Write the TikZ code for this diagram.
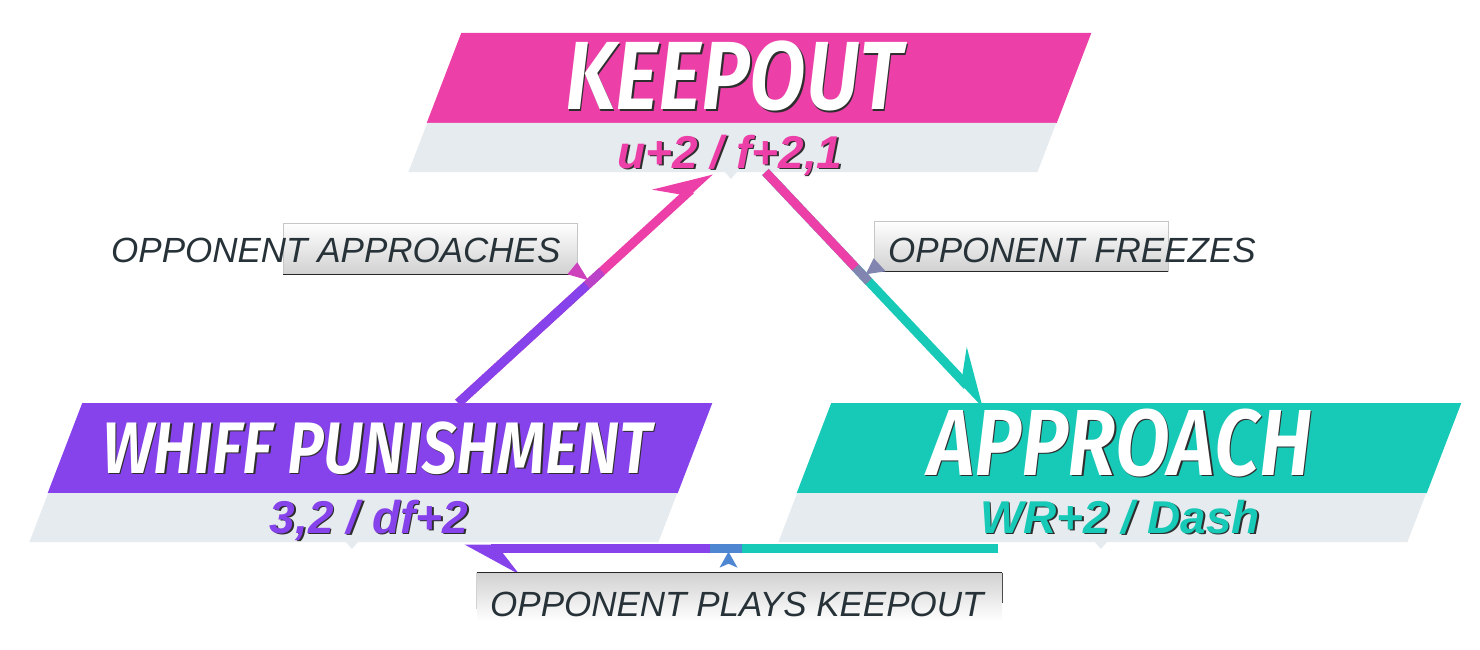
\documentclass[tikz,border=0pt]{standalone}
\usepackage{fontspec}
\setmainfont{Liberation Sans}
\newfontfamily\bannerfont[FakeStretch=0.85]{Fira Sans SemiBold Italic}
\usetikzlibrary{arrows.meta,shapes.geometric,calc,positioning}

\definecolor{kopink}{HTML}{EC40A8}
\definecolor{kopurple}{HTML}{8743EB}
\definecolor{koteal}{HTML}{17C9B7}
\definecolor{bandgray}{HTML}{E6EBEF}
\definecolor{tagink}{HTML}{263238}
\definecolor{shade}{HTML}{2E2E2E}

\newcommand\embossed[1]{\rlap{\textcolor{shade}{\kern1.6pt\raisebox{-1.6pt}{#1}}}#1}

\begin{document}
\begin{tikzpicture}[x=1pt,y=-1pt]
\useasboundingbox (0,0) rectangle (1480,650);
%styles des bandeaux
\tikzset{band/.style={trapezium, trapezium left angle=69, trapezium right angle=111,
  inner xsep=297.75pt, inner ysep=45pt, outer sep=0pt},
  subband/.style={band, fill=bandgray, inner xsep=305.1pt, inner ysep=24.5pt},
  bubblenotch/.style={fill=bandgray},
  bannertitle/.style={anchor=base, text=white, inner sep=0pt,
  font=\bannerfont\fontsize{#1}{#1}\selectfont},
  bannermove/.style={anchor=base, inner sep=0pt, font=\bfseries\itshape\fontsize{46}{46}\selectfont},
  tagbox/.style={draw=gray!45, line width=0.6pt, inner sep=0pt},
  tagedge/.style={draw=black!85, line width=1pt},
  tagtext/.style={anchor=base west, text=tagink, inner sep=0pt,
  font=\itshape\fontsize{35}{36}\selectfont},
  link/.style={line width=9pt},
  linktip/.style={-{Stealth[harpoon,length=48pt,width=52pt,inset=20pt]}}}
%bandeaux
\node[band, fill=kopink] (keepout) at (759,78) {};
\node[subband, anchor=top side] (keepoutsub) at (keepout.bottom side) {};
\node[band, fill=kopurple] (whiff) at (380,448) {};
\node[subband, anchor=top side] (whiffsub) at (whiff.bottom side) {};
\node[band, fill=koteal] (approach) at (1129,448) {};
\node[subband, anchor=top side] (approachsub) at (approach.bottom side) {};
\foreach \b in {keepoutsub,whiffsub,approachsub}
  \fill[bubblenotch] ([shift={(1,-1)}]\b.bottom side) -- ++(14,0) -- ++(-7,8) -- cycle;
%textes des bandeaux
\node[bannertitle=97] (keepouttitle) at (734,110) {\embossed{KEEPOUT}};
\node[bannertitle=73] (whifftitle) at (377,473) {\embossed{WHIFF PUNISHMENT}};
\node[bannertitle=94] (approachtitle) at (1120,475) {\embossed{APPROACH}};
\node[bannermove, text=kopink] (keepoutmove) at (730,168) {\embossed{u+2 / f+2,1}};
\node[bannermove, text=kopurple] (whiffmove) at (369,533) {\embossed{3,2 / df+2}};
\node[bannermove, text=koteal] (approachmove) at (1120,533) {\embossed{WR+2 / Dash}};
%fleches
\coordinate (a1s) at ([shift={(376,0)}]whiff.top left corner);
\coordinate (a1e) at ([shift={(302,0)}]keepoutsub.bottom left corner);
\draw[link, kopink, linktip] (a1s) -- (a1e);
\draw[link, kopurple] (a1s) -- ($(a1s)!0.51!(a1e)$);
\draw[link, kopurple!50!kopink] ($(a1s)!0.51!(a1e)$) -- ($(a1s)!0.57!(a1e)$);
\coordinate (a2s) at ([shift={(357,0)}]keepoutsub.bottom left corner);
\coordinate (a2e) at ([shift={(154,2)}]approach.top left corner);
\draw[link, koteal, linktip] (a2s) -- (a2e);
\draw[link, kopink] (a2s) -- ($(a2s)!0.41!(a2e)$);
\draw[link, kopink!50!koteal] ($(a2s)!0.41!(a2e)$) -- ($(a2s)!0.47!(a2e)$);
\coordinate (a3s) at ([shift={(220,6)}]approachsub.bottom left corner);
\coordinate (a3e) at ([shift={(435,6)}]whiffsub.bottom left corner);
\draw[link, kopurple, linktip] (a3s) -- (a3e);
\draw[link, koteal] (a3s) -- ($(a3s)!0.48!(a3e)$);
\draw[link, koteal!50!kopurple] ($(a3s)!0.48!(a3e)$) -- ($(a3s)!0.54!(a3e)$);
%etiquettes
\node[tagbox, top color=white, bottom color=black!18, minimum width=294pt, minimum height=51pt]
  (approachesbox) at (430,248.5) {};
\draw[tagedge] (approachesbox.south west) -- (approachesbox.south east);
\fill[kopink!70!kopurple] ([shift={(0,-12)}]approachesbox.south east)
  -- ([shift={(11,6)}]approachesbox.south east) -- ([shift={(-10,0)}]approachesbox.south east) -- cycle;
\node[tagtext] (approachestag) at (111,262) {OPPONENT APPROACHES};
\node[tagbox, top color=white, bottom color=black!18, minimum width=294pt, minimum height=50pt]
  (freezesbox) at (1021,246) {};
\draw[tagedge] (freezesbox.south west) -- (freezesbox.south east);
\fill[kopink!50!koteal] ([shift={(0,-13)}]freezesbox.south west)
  -- ([shift={(-8,3)}]freezesbox.south west) -- ([shift={(12,0)}]freezesbox.south west) -- cycle;
\node[tagtext] (freezestag) at (888,262) {OPPONENT FREEZES};
\node[tagbox, draw=none, top color=black!18, bottom color=white, minimum width=525pt, minimum height=48pt]
  (playsbox) at (739.5,597) {};
\draw[tagedge] (playsbox.north west) -- (playsbox.north east);
\draw[black!70, line width=0.8pt] (playsbox.north east) -- ([shift={(0,-18)}]playsbox.south east);
\draw[gray!35, line width=0.8pt] (playsbox.north west) -- ([shift={(0,-12)}]playsbox.south west);
\fill[kopurple!50!koteal] ([shift={(-11,-21)}]playsbox.north) -- ([shift={(-2,-5)}]playsbox.north)
  -- ([shift={(-11,-9)}]playsbox.north) -- ([shift={(-20,-5)}]playsbox.north) -- cycle;
\node[tagtext] (playstag) at (490,616) {OPPONENT PLAYS KEEPOUT};
\end{tikzpicture}
\end{document}
